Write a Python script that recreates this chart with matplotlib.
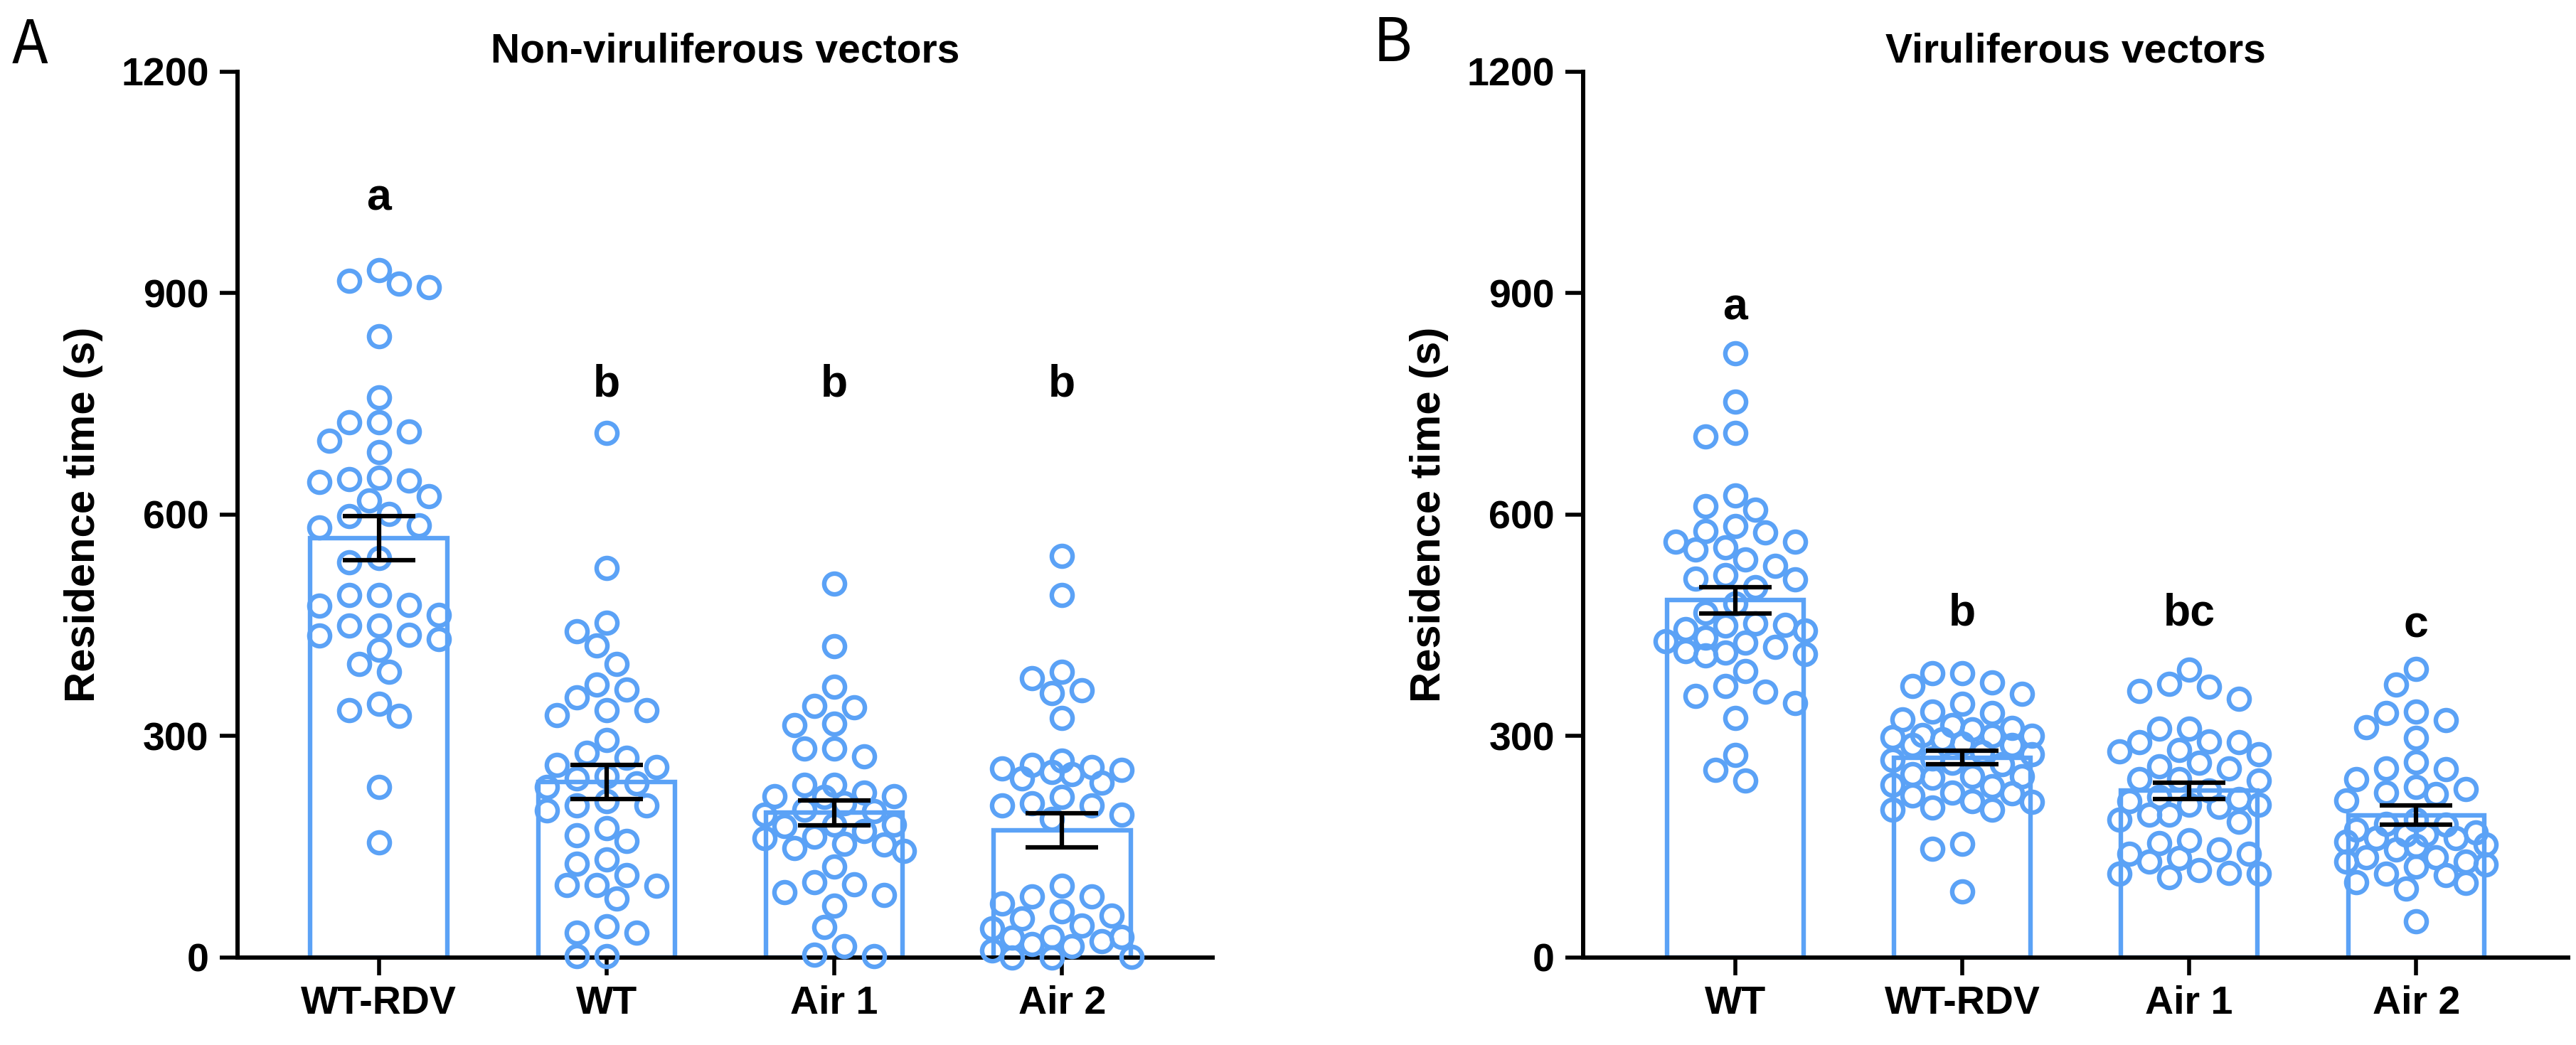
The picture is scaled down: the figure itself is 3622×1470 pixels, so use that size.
import numpy as np
import matplotlib
matplotlib.use("Agg")
import matplotlib.pyplot as plt

# Dane (czas przebywania, s)
groups_a = ["WT-RDV", "WT", "Air 1", "Air 2"]
groups_b = ["WT", "WT-RDV", "Air 1", "Air 2"]

a_wtrdv = [917, 913, 908, 931, 842, 759, 713, 685, 725, 700, 725, 644, 650, 648, 625, 646, 619,
           601, 598, 583, 586, 541, 535, 491, 491, 464, 478, 450, 477, 437, 436, 450, 431, 417,
           387, 398, 335, 327, 344, 231, 156]
a_wt = [711, 528, 454, 442, 423, 398, 370, 363, 352, 335, 328, 335, 295, 277, 261, 258, 271, 236,
        231, 243, 246, 199, 206, 212, 206, 175, 158, 166, 133, 127, 112, 97, 98, 98, 80, 42, 34,
        34, 2, 2]
a_air1 = [507, 422, 367, 341, 339, 315, 317, 283, 273, 283, 234, 234, 219, 219, 223, 218, 209, 198,
          200, 194, 180, 178, 180, 171, 164, 162, 148, 144, 154, 153, 123, 102, 99, 89, 85, 70, 41,
          15, 2, 4]
a_air2 = [544, 491, 387, 378, 362, 358, 325, 258, 248, 243, 261, 251, 256, 267, 254, 237, 218, 206,
          206, 209, 194, 188, 97, 83, 83, 73, 63, 57, 53, 43, 39, 27, 28, 28, 22, 15, 18, 10, 1, 0, 0]

b_wt = [819, 753, 706, 711, 612, 626, 607, 578, 563, 576, 585, 563, 553, 556, 531, 539, 518, 513,
        512, 502, 480, 467, 453, 450, 445, 451, 443, 433, 429, 427, 421, 411, 413, 409, 415, 388,
        360, 368, 354, 345, 325, 274, 254, 240]
b_wtrdv = [90, 154, 147, 200, 211, 220, 200, 203, 212, 222, 223, 248, 264, 246, 246, 244, 232, 234,
           262, 268, 278, 290, 288, 296, 288, 309, 301, 300, 300, 299, 315, 311, 323, 331, 333, 344,
           357, 368, 373, 385, 385, 270, 275]
b_air1 = [390, 371, 361, 351, 367, 310, 310, 292, 292, 293, 279, 275, 281, 256, 259, 264, 242, 242,
          240, 218, 226, 212, 215, 207, 207, 204, 194, 194, 184, 187, 159, 155, 146, 135, 130, 141,
          141, 114, 114, 118, 109, 115]
b_air2 = [391, 370, 333, 331, 322, 312, 298, 255, 256, 265, 242, 213, 221, 228, 231, 223, 180, 173,
          167, 167, 153, 151, 162, 157, 162, 136, 130, 146, 136, 123, 130, 114, 126, 101, 93, 102,
          112, 49, 187, 181, 169]

# srednie i SEM
means_a = [568, 238, 196, 172]
sems_a = [30, 23, 17, 23]
means_b = [484, 271, 226, 193]
sems_b = [18, 9, 11, 13]

letters_a = ["a", "b", "b", "b"]
letters_b = ["a", "b", "bc", "c"]
letter_y_a = [1013, 760, 760, 760]
letter_y_b = [864, 450, 450, 434]

BLUE = "#5BA2F6"
plt.rcParams["font.family"] = ["Liberation Sans", "DejaVu Sans"]
plt.rcParams["font.weight"] = "bold"


def swarm_x(ax, xc, vals, step_px=14, diam_px=33, max_px=98):
    """Prosty beeswarm liczony w pikselach, ograniczony do szerokosci slupka"""
    vals = np.asarray(vals, dtype=float)
    pts = ax.transData.transform(np.column_stack([np.full(len(vals), xc), vals]))
    px_unit = ax.transData.transform((1, 0))[0] - ax.transData.transform((0, 0))[0]
    kmax = int(max_px // step_px)
    cands = []
    for k in range(kmax + 1):
        cands += [0] if k == 0 else [-k * step_px, k * step_px]
    placed = []
    offs = np.zeros(len(vals))
    for i in np.argsort(-vals):
        y = pts[i, 1]
        best, best_d = 0, -1
        for dx in cands:
            d = min([np.hypot(dx - px, y - py) for px, py in placed] + [1e9])
            if d >= diam_px:
                best = dx
                break
            if d > best_d:
                best, best_d = dx, d
        placed.append((best, y))
        offs[i] = best / px_unit
    return xc + offs


def draw_panel(ax, cats, series, means, sems, letters, letter_y, title, xlim):
    x = np.arange(len(cats))
    ax.set_xlim(*xlim)
    ax.set_ylim(0, 1200)
    ax.bar(x, means, width=0.6, facecolor="white", edgecolor=BLUE, linewidth=4.6, zorder=1)
    for i, vals in enumerate(series):
        xs = swarm_x(ax, i, vals)
        ax.plot(xs, vals, "o", mfc="none", mec=BLUE, ms=21, mew=4.6, clip_on=False, zorder=3)
    ax.errorbar(x, means, yerr=sems, fmt="none", ecolor="black", elinewidth=4.5,
                capsize=37, capthick=4.5, zorder=4)
    for i, lab in enumerate(letters):
        ax.text(i, letter_y[i], lab, ha="center", va="baseline", fontsize=45, fontweight="bold")

    ax.set_xticks(x)
    ax.set_xticklabels(cats, fontsize=40, fontweight="bold")
    ax.set_yticks([0, 300, 600, 900, 1200])
    ax.tick_params(axis="y", labelsize=40, width=4, length=18, pad=11)
    ax.tick_params(axis="x", width=4, length=18, pad=10)
    for lab in ax.get_yticklabels():
        lab.set_fontweight("bold")
    ax.set_ylabel("Residence time (s)", fontsize=43, fontweight="bold", labelpad=18)
    ax.set_title(title, fontsize=41, fontweight="bold", pad=10)
    ax.spines["top"].set_visible(False)
    ax.spines["right"].set_visible(False)
    ax.spines["left"].set_linewidth(4.3)
    ax.spines["bottom"].set_linewidth(4.3)


fig = plt.figure(figsize=(36.22, 14.70), dpi=100)
ax1 = fig.add_axes([0.0922, 0.0837, 0.3785, 0.8476])
ax2 = fig.add_axes([0.6146, 0.0837, 0.3824, 0.8476])

draw_panel(ax1, groups_a, [a_wtrdv, a_wt, a_air1, a_air2], means_a, sems_a,
           letters_a, letter_y_a, "Non-viruliferous vectors", (-0.62, 3.66))
draw_panel(ax2, groups_b, [b_wt, b_wtrdv, b_air1, b_air2], means_b, sems_b,
           letters_b, letter_y_b, "Viruliferous vectors", (-0.67, 3.67))

# oznaczenia paneli
fig.text(0.0116, 0.956, "A", fontsize=60, fontweight="normal", ha="center", va="center",
         family=["Noto Sans CJK SC", "DejaVu Sans"])
fig.text(0.5406, 0.958, "B", fontsize=60, fontweight="normal", ha="center", va="center",
         family=["Noto Sans CJK SC", "DejaVu Sans"])

fig.savefig("out.png", dpi=100)
